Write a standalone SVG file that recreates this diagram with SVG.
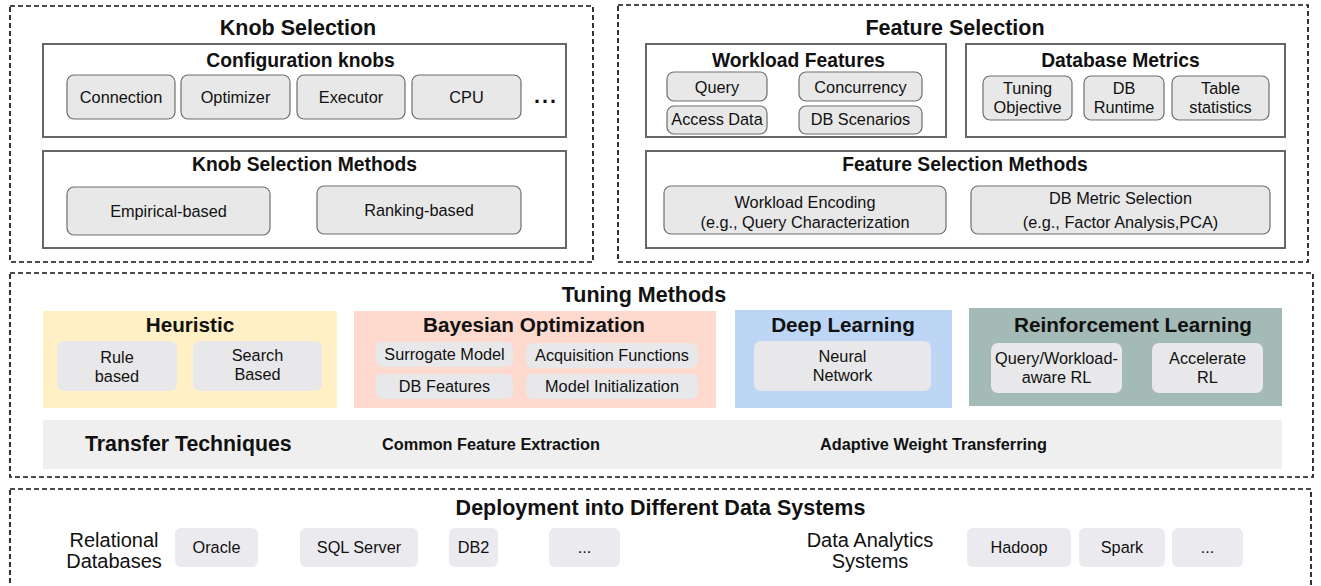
<svg xmlns="http://www.w3.org/2000/svg" width="1321" height="586" viewBox="0 0 1321 586">
<style>
text{font-family:"Liberation Sans",Arial,sans-serif;fill:#111;text-anchor:middle}
.sec{font-size:21.5px;font-weight:bold}
.sub{font-size:19.3px;font-weight:bold}
.mt{font-size:20.7px;font-weight:bold}
.t{font-size:16.3px}
.tb{font-size:16.3px;font-weight:bold}
.big{font-size:20px}
.dash{fill:#fff;stroke:#111;stroke-width:1.7;stroke-dasharray:5 3}
.panel{fill:#fff;stroke:#666;stroke-width:2}
.kb{fill:#e8e8e9;stroke:#6e6e6e;stroke-width:1.2}
.tb2{fill:#e8e8ea}
.db{fill:#ebebef}
</style>
<rect width="1321" height="586" fill="#fff"/>

<g id="knob-selection">
<rect class="dash" x="10" y="6" width="583" height="256"/>
<text class="sec" x="298" y="34.7">Knob Selection</text>
<g id="configuration-knobs">
<rect class="panel" x="43" y="44" width="523" height="93"/>
<text class="sub" x="300.5" y="67">Configuration knobs</text>
<rect class="kb" x="67" y="75" width="108" height="44" rx="7"/>
<text class="t" x="121" y="103">Connection</text>
<rect class="kb" x="181" y="75" width="109" height="44" rx="7"/>
<text class="t" x="235.5" y="103">Optimizer</text>
<rect class="kb" x="297" y="75" width="108" height="44" rx="7"/>
<text class="t" x="351" y="103">Executor</text>
<rect class="kb" x="412" y="75" width="109" height="44" rx="7"/>
<text class="t" x="466.5" y="103">CPU</text>
<text class="sec" x="546" y="103" style="letter-spacing:2px">...</text>
</g>
<g id="knob-selection-methods">
<rect class="panel" x="43" y="151" width="523" height="97"/>
<text class="sub" x="304.5" y="171">Knob Selection Methods</text>
<rect class="kb" x="67" y="187" width="203" height="48" rx="7"/>
<text class="t" x="168.5" y="216.5">Empirical-based</text>
<rect class="kb" x="317" y="186" width="204" height="48" rx="7"/>
<text class="t" x="419" y="216">Ranking-based</text>
</g>
</g>

<g id="feature-selection">
<rect class="dash" x="618" y="5" width="690" height="257"/>
<text class="sec" x="955" y="34.7">Feature Selection</text>
<g id="workload-features">
<rect class="panel" x="646" y="44" width="300" height="93"/>
<text class="sub" x="798.5" y="67">Workload Features</text>
<rect class="kb" x="667" y="72" width="100" height="29" rx="7"/>
<text class="t" x="717" y="92.5">Query</text>
<rect class="kb" x="799" y="72" width="123" height="29" rx="7"/>
<text class="t" x="860.5" y="92.5">Concurrency</text>
<rect class="kb" x="667" y="106" width="100" height="28" rx="7"/>
<text class="t" x="717" y="125">Access Data</text>
<rect class="kb" x="799" y="106" width="123" height="28" rx="7"/>
<text class="t" x="860.5" y="125">DB Scenarios</text>
</g>
<g id="database-metrics">
<rect class="panel" x="966" y="44" width="319" height="93"/>
<text class="sub" x="1120.5" y="67">Database Metrics</text>
<rect class="kb" x="983" y="76" width="89" height="44" rx="7"/>
<text class="t" x="1027.5" y="94">Tuning</text>
<text class="t" x="1027.5" y="112.7">Objective</text>
<rect class="kb" x="1084" y="76" width="80" height="44" rx="7"/>
<text class="t" x="1124" y="94">DB</text>
<text class="t" x="1124" y="112.7">Runtime</text>
<rect class="kb" x="1172" y="76" width="97" height="44" rx="7"/>
<text class="t" x="1220.5" y="94">Table</text>
<text class="t" x="1220.5" y="112.7">statistics</text>
</g>
<g id="feature-selection-methods">
<rect class="panel" x="646" y="151" width="639" height="97"/>
<text class="sub" x="965" y="171">Feature Selection Methods</text>
<rect class="kb" x="664" y="186" width="282" height="48" rx="7"/>
<text class="t" x="805" y="207.7">Workload Encoding</text>
<text class="t" x="805" y="227.7">(e.g., Query Characterization</text>
<rect class="kb" x="971" y="186" width="299" height="48" rx="7"/>
<text class="t" x="1120.5" y="204">DB Metric Selection</text>
<text class="t" x="1120.5" y="228.4">(e.g., Factor Analysis,PCA)</text>
</g>
</g>

<g id="tuning-methods">
<rect class="dash" x="10" y="273" width="1303" height="204"/>
<text class="sec" x="644" y="301.7">Tuning Methods</text>
<g id="heuristic">
<rect x="43" y="311" width="294" height="97" fill="#fff0c6"/>
<text class="mt" x="190" y="332.4">Heuristic</text>
<rect class="tb2" x="57" y="341" width="120" height="50" rx="7"/>
<text class="t" x="117" y="362.7">Rule</text>
<text class="t" x="117" y="381.7">based</text>
<rect class="tb2" x="193" y="341" width="129" height="50" rx="7"/>
<text class="t" x="257.5" y="360.7">Search</text>
<text class="t" x="257.5" y="379.7">Based</text>
</g>
<g id="bayesian-optimization">
<rect x="354" y="311" width="362" height="97" fill="#fdd9ce"/>
<text class="mt" x="534" y="332.4">Bayesian Optimization</text>
<rect class="tb2" x="376" y="342" width="137" height="25" rx="7"/>
<text class="t" x="444.5" y="360">Surrogate Model</text>
<rect class="tb2" x="526" y="343" width="172" height="25" rx="7"/>
<text class="t" x="612" y="361.4">Acquisition Functions</text>
<rect class="tb2" x="376" y="374" width="137" height="25" rx="7"/>
<text class="t" x="444.5" y="392.4">DB Features</text>
<rect class="tb2" x="526" y="374" width="172" height="25" rx="7"/>
<text class="t" x="612" y="392.4">Model Initialization</text>
</g>
<g id="deep-learning">
<rect x="735" y="310" width="217" height="98" fill="#bdd6f5"/>
<text class="mt" x="843" y="332.4">Deep Learning</text>
<rect class="tb2" x="754" y="341" width="177" height="50" rx="7"/>
<text class="t" x="842.5" y="361.7">Neural</text>
<text class="t" x="842.5" y="380.7">Network</text>
</g>
<g id="reinforcement-learning">
<rect x="969" y="308" width="313" height="98" fill="#a4bab6"/>
<text class="mt" x="1133" y="332.4">Reinforcement Learning</text>
<rect class="tb2" x="991" y="343" width="131" height="50" rx="7"/>
<text class="t" x="1056.5" y="364.4">Query/Workload-</text>
<text class="t" x="1056.5" y="383.4">aware RL</text>
<rect class="tb2" x="1152" y="343" width="111" height="50" rx="7"/>
<text class="t" x="1207.5" y="364">Accelerate</text>
<text class="t" x="1207.5" y="383">RL</text>
</g>
<g id="transfer-techniques">
<rect x="43" y="420" width="1239" height="49" fill="#efefef"/>
<text x="85" y="450.6" style="font-size:21.3px;font-weight:bold;text-anchor:start">Transfer Techniques</text>
<text class="tb" x="491" y="449.8">Common Feature Extraction</text>
<text class="tb" x="933.5" y="449.8">Adaptive Weight Transferring</text>
</g>
</g>

<g id="deployment">
<rect class="dash" x="10" y="489" width="1301" height="130"/>
<text class="sec" x="660.5" y="515">Deployment into Different Data Systems</text>
<g id="relational-databases">
<text class="big" x="114" y="547">Relational</text>
<text class="big" x="114" y="568">Databases</text>
<rect class="db" x="175" y="528" width="83" height="39" rx="6"/>
<text class="t" x="216.5" y="553.3">Oracle</text>
<rect class="db" x="300" y="528" width="118" height="39" rx="6"/>
<text class="t" x="359" y="553.3">SQL Server</text>
<rect class="db" x="449" y="528" width="49" height="39" rx="6"/>
<text class="t" x="473.5" y="553.3">DB2</text>
<rect class="db" x="549" y="528" width="71" height="39" rx="6"/>
<text class="t" x="584.5" y="553.3">...</text>
</g>
<g id="data-analytics-systems">
<text class="big" x="870" y="547">Data Analytics</text>
<text class="big" x="870" y="568">Systems</text>
<rect class="db" x="967" y="528" width="104" height="39" rx="6"/>
<text class="t" x="1019" y="553.3">Hadoop</text>
<rect class="db" x="1079" y="528" width="86" height="39" rx="6"/>
<text class="t" x="1122" y="553.3">Spark</text>
<rect class="db" x="1172" y="528" width="71" height="39" rx="6"/>
<text class="t" x="1207.5" y="553.3">...</text>
</g>
</g>
<g id="connectors"/>
</svg>
